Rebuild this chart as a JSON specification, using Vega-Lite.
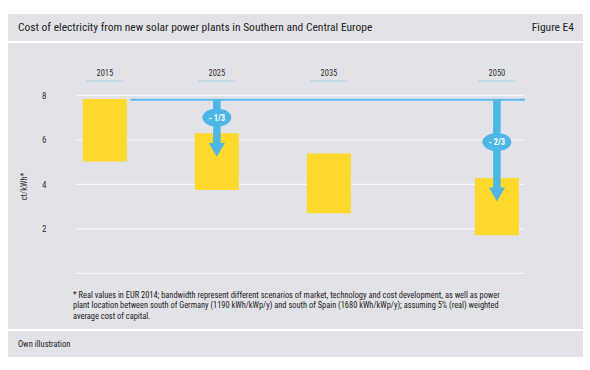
{
  "$schema": "https://vega.github.io/schema/vega-lite/v6.json",
  "padding": {"left": 8, "top": 14, "right": 7, "bottom": 13},
  "background": "white",
  "spacing": 2,
  "config": {
    "view": {"stroke": null, "fill": "#e2e3e8"},
    "font": "Liberation Sans Narrow, Roboto Condensed, Roboto, sans-serif"
  },
  "vconcat": [
    {
      "width": 575,
      "height": 27,
      "layer": [
        {
          "data": {"values": [{"t": "Cost of electricity from new solar power plants in Southern and Central Europe"}]},
          "mark": {"type": "text", "align": "left", "baseline": "middle", "dx": 10, "fontSize": 11.5, "color": "#222"},
          "encoding": {
            "x": {"datum": 0, "type": "quantitative", "scale": {"domain": [0, 1]}, "axis": null},
            "text": {"field": "t"}
          }
        },
        {
          "data": {"values": [{"t": "Figure E4"}]},
          "mark": {"type": "text", "align": "right", "baseline": "middle", "dx": -9, "fontSize": 11.5, "color": "#222"},
          "encoding": {
            "x": {"datum": 1, "type": "quantitative", "scale": {"domain": [0, 1]}, "axis": null},
            "text": {"field": "t"}
          }
        }
      ]
    },
    {
      "width": 575,
      "height": 286,
      "title": {
        "text": [
          "* Real values in EUR 2014; bandwidth represent different scenarios of market, technology and cost development, as well as power",
          "\u00a0\u00a0plant location between south of Germany (1190 kWh/kWp/y) and south of Spain (1680 kWh/kWp/y); assuming 5% (real) weighted",
          "\u00a0\u00a0average cost of capital."
        ],
        "orient": "bottom",
        "anchor": "start",
        "frame": "group",
        "offset": -38,
        "dx": 65,
        "baseline": "top",
        "fontSize": 8.4,
        "fontWeight": "normal",
        "lineHeight": 10.4,
        "color": "#222"
      },
      "encoding": {
        "x": {"type": "quantitative", "scale": {"domain": [2006.8, 2057.24], "nice": false, "zero": false}, "axis": null},
        "y": {"type": "quantitative", "scale": {"domain": [-2.5, 10.35], "nice": false, "zero": false}}
      },
      "layer": [
        {
          "data": {"values": [{"v": 0}, {"v": 2}, {"v": 4}, {"v": 6}, {"v": 8}]},
          "mark": {"type": "rule", "color": "#f6f6f9", "strokeWidth": 1.2},
          "encoding": {
            "y": {
              "field": "v",
              "type": "quantitative",
              "axis": {
                "values": [2, 4, 6, 8],
                "grid": false,
                "domain": false,
                "ticks": false,
                "offset": -38,
                "labelPadding": 0,
                "labelFontSize": 9,
                "labelColor": "#333",
                "title": "ct/kWh*",
                "titleFontSize": 8.5,
                "titleFontWeight": "normal",
                "titleColor": "#333",
                "titlePadding": 13
              }
            },
            "x": {"datum": 2012.4},
            "x2": {"datum": 2052.5}
          }
        },
        {
          "data": {"values": [{"from": 2017.3, "to": 2052.5, "v": 7.8}]},
          "mark": {"type": "rule", "color": "#5bbbe9", "strokeWidth": 2},
          "encoding": {
            "x": {"field": "from", "type": "quantitative"},
            "x2": {"field": "to"},
            "y": {"field": "v", "type": "quantitative"}
          }
        },
        {
          "data": {"name": "costs", "values": [
            {"year": 2015, "low": 5.03, "high": 7.83},
            {"year": 2025, "low": 3.75, "high": 6.29},
            {"year": 2035, "low": 2.70, "high": 5.39},
            {"year": 2050, "low": 1.71, "high": 4.28}
          ]},
          "layer": [
            {
              "mark": {"type": "bar", "width": 44, "color": "#ffd92b"},
              "encoding": {
                "x": {"field": "year", "type": "quantitative"},
                "y": {"field": "low", "type": "quantitative"},
                "y2": {"field": "high"}
              }
            },
            {
              "mark": {"type": "text", "baseline": "middle", "align": "center", "fontSize": 8.5, "color": "#333"},
              "encoding": {
                "x": {"field": "year", "type": "quantitative"},
                "y": {"datum": 9.0},
                "text": {"field": "year", "type": "nominal"}
              }
            },
            {
              "mark": {"type": "tick", "orient": "horizontal", "size": 38, "thickness": 1, "color": "#8ccbea"},
              "encoding": {
                "x": {"field": "year", "type": "quantitative"},
                "y": {"datum": 8.64}
              }
            }
          ]
        },
        {
          "data": {"values": [
            {"year": 2025, "top": 7.8, "shaftEnd": 5.83, "head": 5.55, "badge": 7.0, "label": "- 1/3"},
            {"year": 2050, "top": 7.8, "shaftEnd": 3.84, "head": 3.55, "badge": 5.9, "label": "- 2/3"}
          ]},
          "layer": [
            {
              "mark": {"type": "rule", "color": "#4db6e6", "strokeWidth": 7.5},
              "encoding": {
                "x": {"field": "year", "type": "quantitative"},
                "y": {"field": "top", "type": "quantitative"},
                "y2": {"field": "shaftEnd"}
              }
            },
            {
              "mark": {"type": "point", "shape": "triangle-down", "filled": true, "size": 256, "color": "#4db6e6", "opacity": 1},
              "encoding": {
                "x": {"field": "year", "type": "quantitative"},
                "y": {"field": "head", "type": "quantitative"}
              }
            },
            {
              "mark": {"type": "point", "shape": "M-1,0A1,0.63,0,1,0,1,0A1,0.63,0,1,0,-1,0Z", "filled": true, "size": 841, "color": "#4db6e6", "opacity": 1},
              "encoding": {
                "x": {"field": "year", "type": "quantitative"},
                "y": {"field": "badge", "type": "quantitative"}
              }
            },
            {
              "mark": {"type": "text", "baseline": "middle", "align": "center", "fontSize": 8.5, "fontWeight": "bold", "color": "white"},
              "encoding": {
                "x": {"field": "year", "type": "quantitative"},
                "y": {"field": "badge", "type": "quantitative"},
                "text": {"field": "label"}
              }
            }
          ]
        }
      ]
    },
    {
      "width": 575,
      "height": 26,
      "data": {"values": [{"t": "Own illustration"}]},
      "mark": {"type": "text", "align": "left", "baseline": "middle", "dx": 10, "fontSize": 8.5, "color": "#222"},
      "encoding": {
        "x": {"datum": 0, "type": "quantitative", "scale": {"domain": [0, 1]}, "axis": null},
        "text": {"field": "t"}
      }
    }
  ]
}
